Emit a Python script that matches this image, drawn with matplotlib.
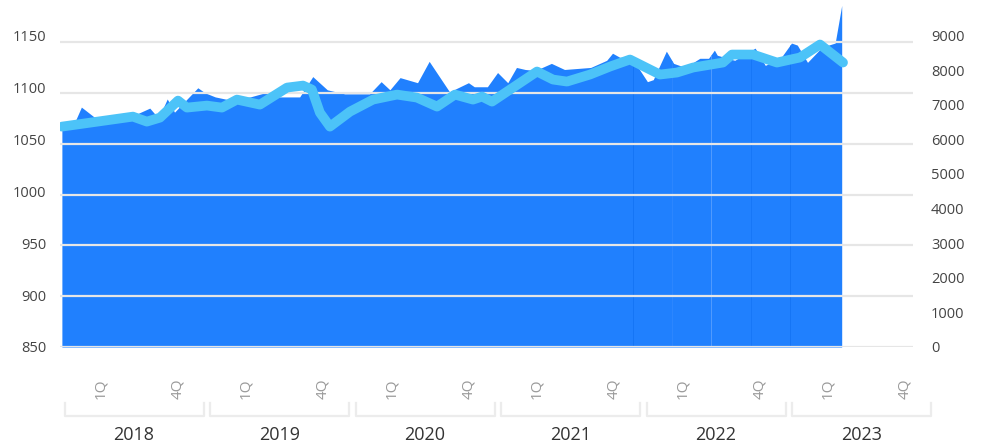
import matplotlib
matplotlib.use("Agg")
import matplotlib.pyplot as plt
import matplotlib.transforms as mtransforms
import numpy as np

plt.rcParams['font.family'] = ['Open Sans', 'DejaVu Sans']

# area series (left axis), dates as fractional years
area_dates = [2017.986, 2018.08, 2018.12, 2018.21, 2018.42, 2018.59, 2018.65, 2018.71,
              2018.76, 2018.92, 2018.97, 2019.04, 2019.14, 2019.28, 2019.38, 2019.48,
              2019.62, 2019.71, 2019.81, 2019.93, 2020.10, 2020.18, 2020.24, 2020.31,
              2020.43, 2020.51, 2020.65, 2020.78, 2020.82, 2020.91, 2020.98, 2021.05,
              2021.11, 2021.17, 2021.24, 2021.35, 2021.44, 2021.62, 2021.73, 2021.77,
              2021.82, 2021.90, 2022.01, 2022.05, 2022.14, 2022.19, 2022.27, 2022.37,
              2022.43, 2022.47, 2022.49, 2022.61, 2022.75, 2022.82, 2022.93, 2023.00,
              2023.04, 2023.11, 2023.21, 2023.30, 2023.345]
area_values = [1071, 1073, 1086, 1076, 1074, 1085, 1075, 1094,
               1081, 1105, 1100, 1096, 1093, 1096, 1100, 1096,
               1096, 1116, 1103, 1099, 1099, 1111, 1103, 1115,
               1110, 1131, 1101, 1110, 1106, 1106, 1120, 1110,
               1125, 1123, 1122, 1129, 1123, 1125, 1132, 1139,
               1135, 1135, 1111, 1113, 1141, 1129, 1125, 1134,
               1134, 1142, 1137, 1132, 1144, 1127, 1135, 1149,
               1147, 1130, 1145, 1149, 1186]

# line series (right axis)
line_dates = [2017.986, 2018.474, 2018.570, 2018.660, 2018.784, 2018.845, 2018.983, 2019.086,
              2019.189, 2019.347, 2019.533, 2019.643, 2019.704, 2019.759, 2019.828, 2019.966,
              2020.124, 2020.289, 2020.426, 2020.564, 2020.687, 2020.811, 2020.873, 2020.942,
              2021.086, 2021.251, 2021.361, 2021.457, 2021.615, 2021.753, 2021.890, 2022.096,
              2022.213, 2022.323, 2022.529, 2022.591, 2022.735, 2022.900, 2023.058, 2023.196,
              2023.354]
line_values = [6367, 6656, 6512, 6627, 7119, 6917, 6975, 6917,
               7148, 7003, 7495, 7553, 7438, 6772, 6367, 6801,
               7148, 7293, 7206, 6946, 7293, 7148, 7235, 7090,
               7495, 7959, 7727, 7669, 7872, 8103, 8306, 7872,
               7930, 8074, 8219, 8450, 8450, 8219, 8364, 8740,
               8219]

# faint seams visible inside the filled area
seam_dates = [2021.911, 2022.179, 2022.447, 2022.722, 2022.990]
seam_colors = ["#1474f4", "#2f88fe", "#5aa0fe", "#1676f6", "#1474f4"]

years = [2018, 2019, 2020, 2021, 2022, 2023]
quarter_labels = ["1Q", "4Q"]
left_ticks = [850, 900, 950, 1000, 1050, 1100, 1150]
right_ticks = [0, 1000, 2000, 3000, 4000, 5000, 6000, 7000, 8000, 9000]

W, H = 982, 446
fig = plt.figure(figsize=(W / 100, H / 100), dpi=100)
ax = fig.add_axes([60 / W, (H - 347) / H, (913 - 60) / W, 344 / H])

ax.fill_between(area_dates, 850, area_values, color="#2080fe", lw=0, zorder=1)
seam_tops = np.interp(seam_dates, area_dates, area_values)
ax.vlines(seam_dates, 850, seam_tops, colors=seam_colors, lw=0.6, zorder=1.5)
ax.set_ylim(850, 1188.4)
ax.set_xlim(2017.973, 2023.835)
ax.set_yticks(left_ticks)
ax.grid(axis="y", color="#e6e6e6", lw=1.6, zorder=2)
ax.set_axisbelow(False)
ax.tick_params(axis="y", length=0, pad=10, labelsize=10.5, labelcolor="#444444")
# the labels sit a little above their gridlines, more so near the top
for v, lab in zip(left_ticks, ax.get_yticklabels()):
    dy = (v - 850) / 300 * 7 / 100
    lab.set_transform(lab.get_transform() + mtransforms.ScaledTranslation(0, dy, fig.dpi_scale_trans))

# quarter ticks
qpos, qlab = [], []
for y in years:
    qpos += [y + 0.25, y + 0.78]
    qlab += quarter_labels
ax.set_xticks(qpos)
ax.set_xticklabels(qlab, rotation=90, color="#9a9a9a", fontsize=11)
ax.tick_params(axis="x", length=0, pad=23)
for s in ax.spines.values():
    s.set_visible(False)

ax2 = ax.twinx()
ax2.plot(line_dates, line_values, color="#4cc3f8", lw=7,
         solid_capstyle="round", solid_joinstyle="round", zorder=3)
ax2.set_ylim(0, 9939)
ax2.set_yticks(right_ticks)
ax2.tick_params(axis="y", length=0, pad=13, labelsize=10.5, labelcolor="#444444")
for s in ax2.spines.values():
    s.set_visible(False)

# year brackets below the axis
trans = mtransforms.blended_transform_factory(ax.transData, ax.transAxes)
y_top = (347 - 403) / 344
y_bot = (347 - 416) / 344
for y in years:
    x0, x1 = y + 0.005, y + 0.96
    ax.plot([x0, x0, x1, x1], [y_top, y_bot, y_bot, y_top], transform=trans,
            color="#ececec", lw=1.6, clip_on=False)
    ax.text(y + 0.48, (347 - 435) / 344, str(y), transform=trans,
            ha="center", va="center", fontsize=13, color="#333333")

fig.savefig("out.png", dpi=100)
